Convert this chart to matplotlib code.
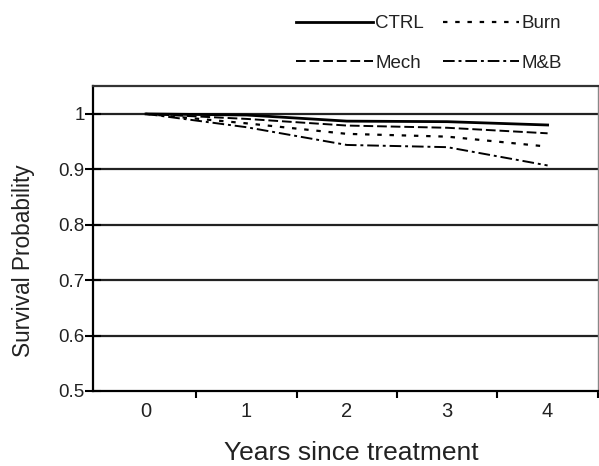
import matplotlib.pyplot as plt
import numpy as np

plt.rcParams['font.family'] = ['Liberation Sans', 'DejaVu Sans']

# survival probability by years since treatment
years = [0, 1, 2, 3, 4]
ctrl = [1.0, 0.998, 0.987, 0.986, 0.980]
burn = [1.0, 0.983, 0.964, 0.959, 0.941]
mech = [1.0, 0.991, 0.979, 0.975, 0.965]
mb = [1.0, 0.976, 0.944, 0.940, 0.907]

fig = plt.figure(figsize=(5.99, 4.66), dpi=100)
ax = fig.add_axes([0.155, 0.161, 0.843, 0.654])

l1, = ax.plot(years, ctrl, color='black', lw=2.0, label='CTRL')
l2, = ax.plot(years, burn, color='black', lw=1.6, linestyle=(0, (2, 3.5)), label='Burn')
l3, = ax.plot(years, mech, color='black', lw=1.4, linestyle=(0, (5, 2)), label='Mech')
l4, = ax.plot(years, mb, color='black', lw=1.4, linestyle=(0, (6, 2, 1.5, 2)), label='M&B')

ax.set_xlim(-0.53, 4.5)
ax.set_ylim(0.5, 1.05)
ax.set_yticks([0.5, 0.6, 0.7, 0.8, 0.9, 1.0])
ax.set_yticklabels(['0.5', '0.6', '0.7', '0.8', '0.9', '1'])
ax.set_xticks(years)
ax.set_xticks([0.5, 1.5, 2.5, 3.5, 4.5], minor=True)
ax.tick_params(axis='x', which='major', length=0, labelsize=14.5, pad=8, labelcolor='#222222')
ax.tick_params(axis='x', which='minor', length=5, width=1.5, direction='out')
ax.tick_params(axis='y', length=12, width=1.5, direction='inout', labelsize=13.5, pad=0,
               labelcolor='#222222')

for y in [0.6, 0.7, 0.8, 0.9, 1.0]:
    ax.axhline(y, color='#222222', lw=1.6, zorder=0)

ax.spines['left'].set_linewidth(1.6)
ax.spines['bottom'].set_linewidth(1.6)
ax.spines['top'].set_linewidth(1.6)
ax.spines['top'].set_color('#333333')
ax.spines['right'].set_color('#888888')
ax.spines['right'].set_linewidth(1.0)

ax.set_xlabel('Years since treatment', fontsize=19, labelpad=15, color='#222222')
ax.set_ylabel('Survival Probability', fontsize=16.3, color='#222222')
ax.yaxis.set_label_coords(-0.114, 0.426)
ax.xaxis.set_label_coords(0.511, -0.165)

fig.legend([l1, l3, l2, l4], ['CTRL', 'Mech', 'Burn', 'M&B'], ncol=2,
           loc='upper left', bbox_to_anchor=(0.479, 0.988), frameon=False,
           fontsize=13.5, handlelength=4.1, handletextpad=0.1, borderpad=0,
           columnspacing=1.0, labelspacing=1.2, labelcolor='#222222')

fig.savefig('out.png', dpi=100)
